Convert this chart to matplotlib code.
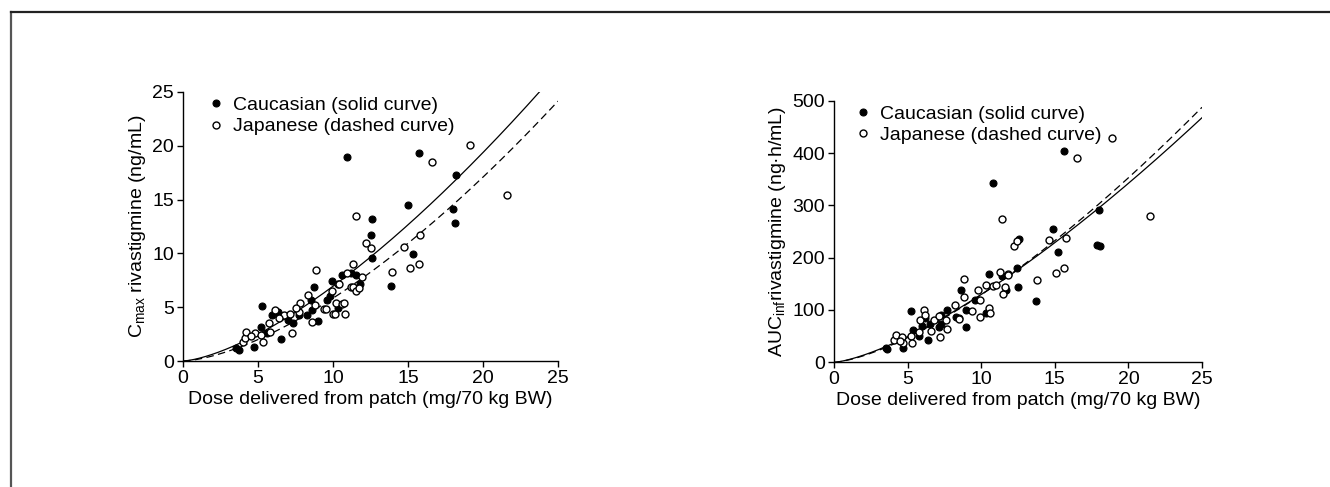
import numpy as np
import matplotlib
matplotlib.use("Agg")
import matplotlib.pyplot as plt
from matplotlib.lines import Line2D

plt.rcParams['font.family'] = ['Liberation Sans', 'DejaVu Sans']
plt.rcParams['mathtext.fontset'] = 'custom'
plt.rcParams['mathtext.rm'] = 'Liberation Sans'
plt.rcParams['mathtext.it'] = 'Liberation Sans:italic'

# ---- Cmax panel data (dose mg/70 kg BW, Cmax ng/mL) ----
cmax_cau_dose = [3.5, 3.7, 4.7, 5.2, 5.25, 5.9, 6.5, 6.3, 7.0, 7.7, 8.25, 8.5, 8.6, 8.7,
                 9.0, 9.6, 9.8, 9.9, 10.35, 10.6, 11.2, 11.5, 11.8, 12.5, 12.6, 12.6,
                 10.9, 13.85, 15.0, 15.3, 15.7, 18.0, 18.1, 18.2, 5.6, 7.3]
cmax_cau_val = [1.2, 1.0, 1.3, 3.2, 5.1, 4.3, 2.0, 4.6, 3.8, 4.3, 4.3, 5.7, 4.75, 6.9,
                3.7, 5.7, 6.0, 7.4, 4.9, 8.0, 8.2, 8.0, 7.2, 11.7, 9.6, 13.2,
                19.0, 7.0, 14.5, 9.9, 19.3, 14.1, 12.8, 17.3, 2.6, 3.5]
cmax_jpn_dose = [4.0, 4.1, 4.2, 4.8, 5.2, 5.35, 5.75, 5.8, 6.1, 6.7, 7.1, 7.25, 7.7, 7.8,
                 8.35, 8.6, 8.8, 8.85, 9.4, 9.5, 9.9, 10.0, 10.1, 10.2, 10.35, 10.4,
                 10.6, 10.7, 10.8, 10.9, 11.2, 11.35, 11.35, 11.5, 11.7, 11.95, 12.2,
                 12.5, 11.5, 13.9, 14.7, 15.1, 15.7, 15.8, 16.6, 19.1, 21.6, 4.5, 6.4, 7.5]
cmax_jpn_val = [1.8, 2.1, 2.7, 2.6, 2.4, 1.8, 3.5, 2.7, 4.75, 4.3, 4.4, 2.6, 4.6, 5.4,
                6.1, 3.65, 5.2, 8.5, 4.8, 4.8, 6.5, 4.4, 4.4, 5.4, 7.2, 7.2,
                5.3, 5.4, 4.35, 8.2, 6.9, 6.9, 9.0, 6.5, 6.8, 7.8, 11.0,
                10.5, 13.5, 8.3, 10.6, 8.6, 9.0, 11.7, 18.5, 20.1, 15.4, 2.3, 4.0, 4.9]

# ---- AUCinf panel data (dose mg/70 kg BW, AUCinf ng.h/mL) ----
auc_cau_dose = [3.5, 3.6, 4.7, 5.2, 5.4, 6.0, 6.2, 6.4, 6.5, 7.1, 7.25, 7.25, 7.65, 8.3,
                8.5, 8.65, 8.95, 9.6, 10.3, 10.5, 10.8, 11.4, 11.7, 12.4, 12.5, 12.6,
                13.7, 14.9, 15.2, 15.6, 17.9, 18.1, 18.0, 5.8, 9.0]
auc_cau_val = [28, 25, 27, 98, 62, 70, 84, 43, 74, 68, 90, 74, 100, 87,
               84, 138, 68, 119, 95, 169, 342, 164, 139, 181, 143, 236,
               118, 254, 211, 404, 224, 222, 291, 50, 100]
auc_jpn_dose = [4.1, 4.2, 4.6, 4.7, 5.2, 5.3, 5.8, 5.85, 6.1, 6.2, 6.8, 7.1, 7.2, 7.6,
                7.7, 8.2, 8.5, 8.8, 8.8, 9.35, 9.8, 9.9, 9.9, 10.3, 10.5, 10.6, 10.8,
                11.0, 11.3, 11.4, 11.5, 11.6, 11.8, 11.85, 12.2, 12.4, 13.8, 14.6,
                15.05, 15.6, 15.75, 16.5, 18.9, 21.5, 4.5, 6.6]
auc_jpn_val = [43, 52, 49, 36, 50, 37, 58, 81, 100, 90, 80, 88, 49, 80,
               64, 110, 82, 125, 160, 98, 138, 120, 86, 148, 104, 95, 146,
               148, 173, 274, 130, 143, 169, 167, 222, 232, 157, 233,
               170, 181, 238, 390, 428, 280, 40, 60]

# Power-model fits  y = a * dose**b
cmax_fit_cau = (0.230, 1.48)
cmax_fit_jpn = (0.1645, 1.55)
auc_fit_cau = (5.16, 1.40)
auc_fit_jpn = (4.58, 1.45)

legend_labels = ["Caucasian (solid curve)", "Japanese (dashed curve)"]
x_ticks = [0, 5, 10, 15, 20, 25]
xlabel = "Dose delivered from patch (mg/70 kg BW)"

W, H = 1330, 487
fig = plt.figure(figsize=(W / 100, H / 100), dpi=100)

# thin frame lines along the top and left edge
fig.add_artist(Line2D([11 / W, 11 / W], [0, 1 - 12 / H], transform=fig.transFigure,
                      color='#555555', lw=1.6))
fig.add_artist(Line2D([11 / W, 1], [1 - 12 / H, 1 - 12 / H], transform=fig.transFigure,
                      color='#222222', lw=1.6))

FS = 14
ax1 = fig.add_axes([183 / W, (H - 361) / H, 375 / W, 269 / H])
ax2 = fig.add_axes([834 / W, (H - 362.3) / H, 368 / W, 261.6 / H])


def panel(ax, cd, cv, jd, jv, fc, fj, ymax, yticks, ylabel, leg_x):
    ms = 5.0
    ax.plot(cd, cv, 'o', ms=ms, mfc='black', mec='black', mew=0.8, ls='none',
            label=legend_labels[0], zorder=3)
    ax.plot(jd, jv, 'o', ms=ms, mfc='white', mec='black', mew=1.0, ls='none',
            label=legend_labels[1], zorder=3)
    xx = np.linspace(0, 25, 300)
    ax.plot(xx, fc[0] * xx ** fc[1], '-', color='black', lw=0.9, zorder=2)
    ax.plot(xx, fj[0] * xx ** fj[1], '--', color='black', lw=0.9,
            dashes=(6, 3.5), zorder=2)
    ax.set_xlim(0, 25)
    ax.set_ylim(0, ymax)
    ax.set_xticks(x_ticks)
    ax.set_yticks(yticks)
    for s in ('top', 'right'):
        ax.spines[s].set_visible(False)
    for s in ('left', 'bottom'):
        ax.spines[s].set_linewidth(1.0)
    ax.tick_params(direction='out', length=4, width=1.0, labelsize=FS, pad=2.5)
    ax.set_xlabel(xlabel, fontsize=FS, labelpad=3)
    ax.set_ylabel(ylabel, fontsize=FS, labelpad=3)
    ax.legend(loc='upper left', bbox_to_anchor=(leg_x, 1.035), frameon=False,
              fontsize=FS, handlelength=0.8, handletextpad=0.5,
              labelspacing=0.2, borderpad=0.2, markerscale=1.0)


panel(ax1, cmax_cau_dose, cmax_cau_val, cmax_jpn_dose, cmax_jpn_val,
      cmax_fit_cau, cmax_fit_jpn, 25, [0, 5, 10, 15, 20, 25],
      r"C$_{\mathregular{max}}$ rivastigmine (ng/mL)", 0.03)
panel(ax2, auc_cau_dose, auc_cau_val, auc_jpn_dose, auc_jpn_val,
      auc_fit_cau, auc_fit_jpn, 500, [0, 100, 200, 300, 400, 500],
      r"AUC$_{\mathregular{inf}}$rivastigmine (ng·h/mL)", 0.02)

fig.savefig("out.png", dpi=100)
